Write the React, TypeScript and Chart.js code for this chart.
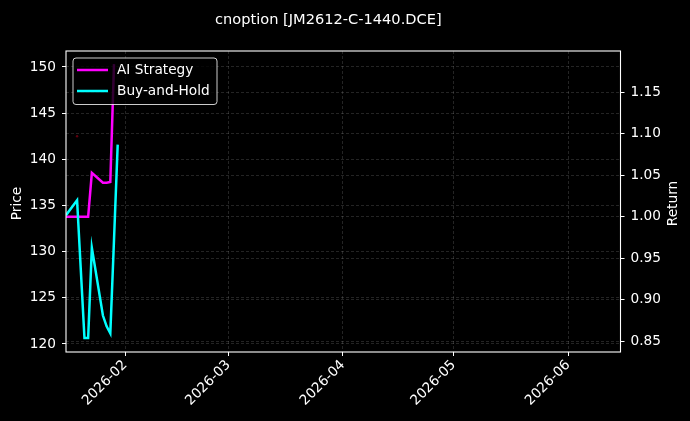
import React, { useEffect, useRef } from "react";
import { Chart, registerables } from "chart.js";

Chart.register(...registerables);

// ---- data ----
const dates = [
  "2026-01-16", "2026-01-19", "2026-01-20", "2026-01-21", "2026-01-22",
  "2026-01-23", "2026-01-26", "2026-01-27", "2026-01-28", "2026-01-29", "2026-01-30",
];
const aiStrategy = [1.0, 1.0, 1.0, 1.0, 1.0, 1.053, 1.041, 1.041, 1.042, 1.184, null];
const buyAndHold = [1.002, 1.02, 0.937, 0.854, 0.854, 0.9626, 0.881, 0.868, 0.8596, 0.972, 1.087];
const priceMarkerDates = ["2026-01-19"];
const priceMarkerValues = [142.5];
const monthTicks = ["2026-02-01", "2026-03-01", "2026-04-01", "2026-05-01", "2026-06-01"];
const monthLabels = ["2026-02", "2026-03", "2026-04", "2026-05", "2026-06"];
const priceTicks = [120, 125, 130, 135, 140, 145, 150];
const returnTicks = [0.85, 0.9, 0.95, 1.0, 1.05, 1.1, 1.15];
const xRange = ["2026-01-16T00:00:00Z", "2026-06-15T04:00:00Z"];
const priceRange = [119.13, 151.73];
const returnRange = [0.8371, 1.1998];

const TITLE = "cnoption [JM2612-C-1440.DCE]";
const FONT = "'DejaVu Sans', sans-serif";
const FS = 13.7;

const ts = (d: string) => Date.parse(d.length === 10 ? d + "T00:00:00Z" : d);

const gridColor = "rgba(255,255,255,0.24)";

const decor = {
  id: "decor",
  beforeDraw(chart: any) {
    const { ctx, width, height } = chart;
    ctx.save();
    ctx.fillStyle = "#000";
    ctx.fillRect(0, 0, width, height);
    ctx.restore();
  },
  afterDraw(chart: any) {
    const { ctx, chartArea: a } = chart;
    ctx.save();
    // frame
    ctx.strokeStyle = "#ffffff";
    ctx.lineWidth = 1.1;
    ctx.strokeRect(a.left, a.top, a.right - a.left, a.bottom - a.top);

    // title
    ctx.fillStyle = "#ffffff";
    ctx.font = `14.6px ${FONT}`;
    ctx.textAlign = "left";
    ctx.textBaseline = "alphabetic";
    ctx.fillText(TITLE, 215, 24);

    // axis titles
    ctx.font = `${FS}px ${FONT}`;
    ctx.textAlign = "center";
    ctx.textBaseline = "middle";
    const cy = (a.top + a.bottom) / 2;
    ctx.save();
    ctx.translate(17, cy + 2);
    ctx.rotate(-Math.PI / 2);
    ctx.fillText("Price", 0, 0);
    ctx.restore();
    ctx.save();
    ctx.translate(673, cy + 2);
    ctx.rotate(-Math.PI / 2);
    ctx.fillText("Return", 0, 0);
    ctx.restore();

    // legend
    const lx = 73, ly = 58, lw = 144, lh = 46.5, r = 3;
    ctx.beginPath();
    ctx.moveTo(lx + r, ly);
    ctx.lineTo(lx + lw - r, ly);
    ctx.quadraticCurveTo(lx + lw, ly, lx + lw, ly + r);
    ctx.lineTo(lx + lw, ly + lh - r);
    ctx.quadraticCurveTo(lx + lw, ly + lh, lx + lw - r, ly + lh);
    ctx.lineTo(lx + r, ly + lh);
    ctx.quadraticCurveTo(lx, ly + lh, lx, ly + lh - r);
    ctx.lineTo(lx, ly + r);
    ctx.quadraticCurveTo(lx, ly, lx + r, ly);
    ctx.closePath();
    ctx.fillStyle = "rgba(0,0,0,0.8)";
    ctx.fill();
    ctx.strokeStyle = "rgba(255,255,255,0.8)";
    ctx.lineWidth = 1;
    ctx.stroke();

    const items = [
      { label: "AI Strategy", color: "#ff00ff", y: 70 },
      { label: "Buy-and-Hold", color: "#00ffff", y: 91 },
    ];
    ctx.font = `${FS}px ${FONT}`;
    ctx.textAlign = "left";
    ctx.textBaseline = "middle";
    for (const it of items) {
      ctx.strokeStyle = it.color;
      ctx.lineWidth = 2.5;
      ctx.beginPath();
      ctx.moveTo(77, it.y);
      ctx.lineTo(108, it.y);
      ctx.stroke();
      ctx.fillStyle = "#ffffff";
      ctx.fillText(it.label, 117, it.y + 0.5);
    }
    ctx.restore();
  },
};

export default function App() {
  const ref = useRef<HTMLCanvasElement | null>(null);

  useEffect(() => {
    if (!ref.current) return;
    const tickFont = { family: FONT, size: FS };
    const gridOpts = {
      color: gridColor,
      lineWidth: 0.6,
      drawTicks: true,
      tickLength: 4,
      tickColor: "#ffffff",
      tickWidth: 1,
      tickBorderDash: [],
    };
    const chart = new Chart(ref.current, {
      type: "line",
      data: {
        datasets: [
          {
            label: "AI Strategy",
            data: dates.map((d, i) => ({ x: ts(d), y: aiStrategy[i] })) as any,
            borderColor: "#ff00ff",
            backgroundColor: "#ff00ff",
            borderWidth: 2.5,
            pointRadius: 0,
            tension: 0,
            yAxisID: "y1",
            order: 2,
          },
          {
            label: "Buy-and-Hold",
            data: dates.map((d, i) => ({ x: ts(d), y: buyAndHold[i] })) as any,
            borderColor: "#00ffff",
            backgroundColor: "#00ffff",
            borderWidth: 2.5,
            pointRadius: 0,
            tension: 0,
            yAxisID: "y1",
            order: 1,
          },
          {
            label: "Price",
            data: priceMarkerDates.map((d, i) => ({ x: ts(d), y: priceMarkerValues[i] })) as any,
            borderColor: "rgba(140,0,20,0.7)",
            backgroundColor: "rgba(140,0,20,0.7)",
            showLine: false,
            pointRadius: 1.2,
            pointBorderWidth: 0,
            yAxisID: "y",
            order: 3,
          },
        ],
      },
      options: {
        animation: false,
        responsive: false,
        maintainAspectRatio: false,
        devicePixelRatio: 1,
        layout: { padding: { top: 51, left: 0, right: 0, bottom: 0 } },
        plugins: {
          legend: { display: false },
          title: { display: false },
          tooltip: { enabled: false },
        },
        scales: {
          x: {
            type: "linear",
            position: "bottom",
            min: ts(xRange[0]),
            max: ts(xRange[1]),
            afterBuildTicks: (s: any) => {
              s.ticks = monthTicks.map((d) => ({ value: ts(d) }));
            },
            afterFit: (s: any) => {
              s.height = 69;
            },
            ticks: {
              autoSkip: false,
              minRotation: 45,
              maxRotation: 45,
              color: "#ffffff",
              font: tickFont,
              padding: 1,
              callback: (v: any) => {
                const i = monthTicks.findIndex((d) => ts(d) === v);
                return i >= 0 ? monthLabels[i] : "";
              },
            },
            grid: gridOpts,
            border: { display: false, dash: [3, 2] },
          },
          y: {
            type: "linear",
            position: "left",
            min: priceRange[0],
            max: priceRange[1],
            afterBuildTicks: (s: any) => {
              s.ticks = priceTicks.map((v) => ({ value: v }));
            },
            afterFit: (s: any) => {
              s.width = 66;
            },
            ticks: {
              color: "#ffffff",
              font: tickFont,
              padding: 6,
              callback: (v: any) => String(v),
            },
            grid: gridOpts,
            border: { display: false, dash: [3, 2] },
          },
          y1: {
            type: "linear",
            position: "right",
            min: returnRange[0],
            max: returnRange[1],
            afterBuildTicks: (s: any) => {
              s.ticks = returnTicks.map((v) => ({ value: v }));
            },
            afterFit: (s: any) => {
              s.width = 69.5;
            },
            ticks: {
              color: "#ffffff",
              font: tickFont,
              padding: 6,
              callback: (v: any) => Number(v).toFixed(2),
            },
            grid: gridOpts,
            border: { display: false, dash: [3, 2] },
          },
        },
      },
      plugins: [decor],
    });
    return () => chart.destroy();
  }, []);

  return (
    <div style={{ position: "fixed", left: 0, top: 0, width: 690, height: 421, background: "#000" }}>
      <canvas ref={ref} width={690} height={421} style={{ width: 690, height: 421, display: "block" }} />
    </div>
  );
}
